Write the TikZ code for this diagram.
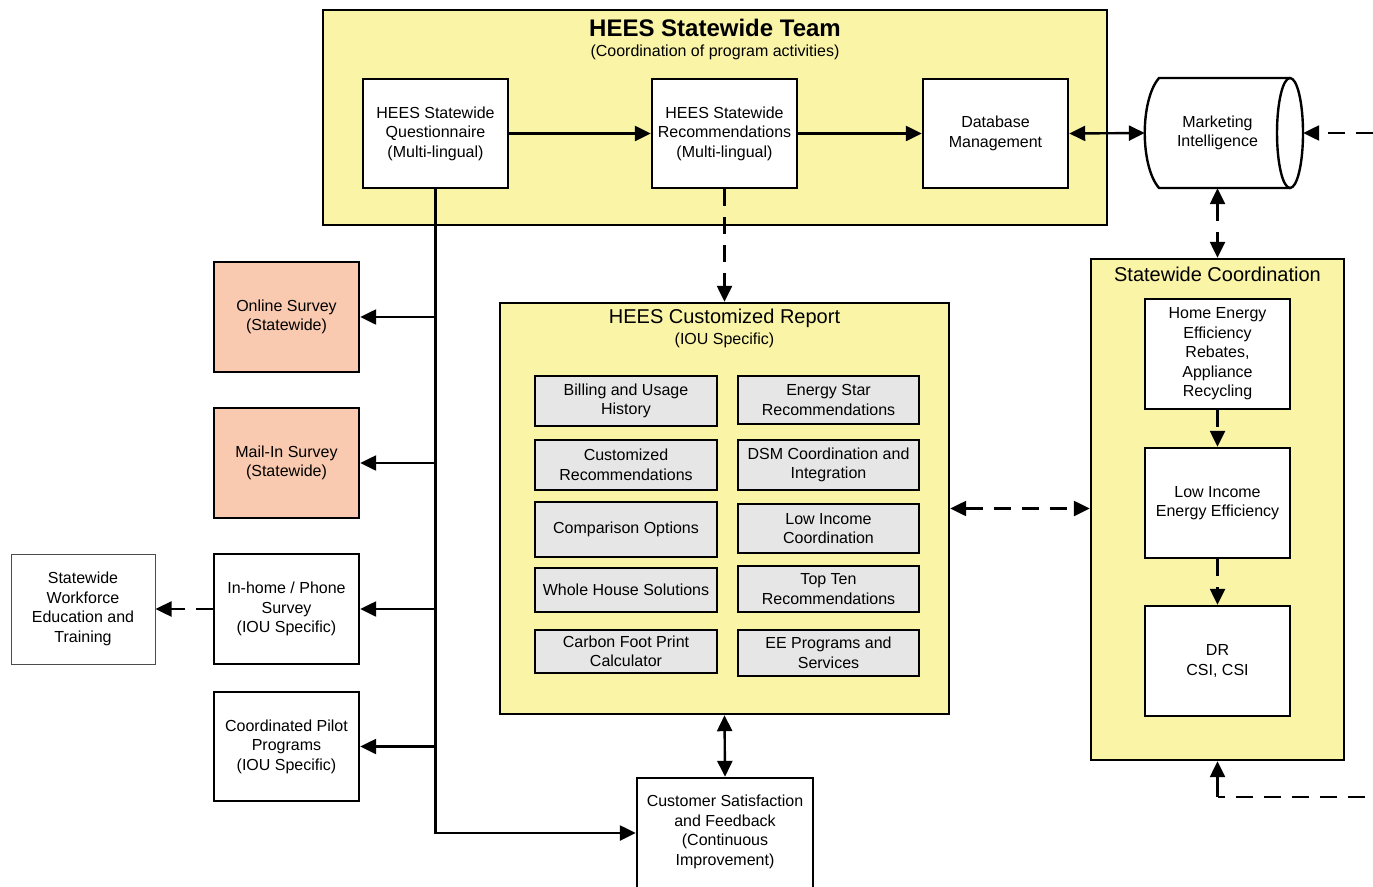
\documentclass[tikz,border=0pt]{standalone}
\usepackage{fontspec}
\setmainfont{Liberation Sans}
\usetikzlibrary{arrows.meta}
\definecolor{hyellow}{HTML}{FAF4A6}
\definecolor{hsalmon}{HTML}{F9C9B0}
\definecolor{hgray}{HTML}{E6E6E6}
\tikzset{
  base/.style={draw, line width=2.4pt, font=\fontsize{16}{19.5}\selectfont, align=center, inner sep=1pt},
  wbox/.style={base, fill=white},
  ybox/.style={base, fill=hyellow},
  sbox/.style={base, fill=hsalmon},
  gbox/.style={base, fill=hgray, line width=2.5pt},
  txt/.style={font=\fontsize{16}{19.5}\selectfont, align=center, inner sep=0pt},
  ttl/.style={txt, font=\fontsize{20}{24}\selectfont},
  tip/.tip={Triangle[length=16pt,width=15pt]},
  arr/.style={line width=2.4pt, -tip},
  darr/.style={line width=2.4pt, tip-tip},
  dsh/.style={dash pattern=on 17pt off 11pt},
  stdbox/.style={minimum width=145pt, minimum height=110pt},
}
\begin{document}
\begin{tikzpicture}[x=1pt,y=-1pt]
\useasboundingbox (0,0) rectangle (1373,886);
\clip (0,0) rectangle (1373,886);

% HEES Statewide Team
\node[ybox, minimum width=784pt, minimum height=215pt] (team) at (715,117.5) {};
\node[txt, font=\bfseries\fontsize{24}{28}\selectfont] (teamt) at (715,28) {HEES Statewide Team};
\node[txt] (teams) at (715,52) {(Coordination of program activities)};
\node[wbox, stdbox, minimum height=109pt] (q) at (435.5,133.5) {HEES Statewide\\Questionnaire\\(Multi-lingual)};
\node[wbox, stdbox, minimum height=109pt] (r) at (724.5,133.5) {HEES Statewide\\Recommendations\\(Multi-lingual)};
\node[wbox, stdbox, minimum height=109pt] (db) at (995.5,133.5) {Database\\Management};

% Marketing Intelligence cylinder
\fill[white] (1290,78) -- (1159,78) .. controls (1140,100) and (1140,166) .. (1159,188) -- (1290,188) -- cycle;
\filldraw[fill=white, line width=2.4pt] (1290,133) ellipse [x radius=13, y radius=55];
\draw[line width=2.4pt] (1290,78) -- (1159,78) .. controls (1140,100) and (1140,166) .. (1159,188) -- (1290,188);
\node[inner sep=0pt, minimum width=158pt, minimum height=110pt] (mi) at (1224,133) {};
\node[txt] (mit) at (1217.5,133) {Marketing\\Intelligence};

% HEES Customized Report
\node[ybox, minimum width=449pt, minimum height=411pt] (rep) at (724.5,508.5) {};
\node[ttl] (rept) at (724.5,318) {HEES Customized Report};
\node[txt] (reps) at (724.5,340) {(IOU Specific)};
\node[gbox, minimum width=182pt, minimum height=50pt] (g1) at (626,401) {Billing and Usage\\History};
\node[gbox, minimum width=181pt, minimum height=48pt] (g2) at (828.5,400) {Energy Star\\Recommendations};
\node[gbox, minimum width=182pt, minimum height=50pt] (g3) at (626,465) {Customized\\Recommendations};
\node[gbox, minimum width=181pt, minimum height=50pt] (g4) at (828.5,465) {DSM Coordination and\\Integration};
\node[gbox, minimum width=182pt, minimum height=55pt] (g5) at (626,529.5) {Comparison Options};
\node[gbox, minimum width=181pt, minimum height=49pt] (g6) at (828.5,528.5) {Low Income\\Coordination};
\node[gbox, minimum width=182pt, minimum height=44pt] (g7) at (626,590) {Whole House Solutions};
\node[gbox, minimum width=181pt, minimum height=46pt] (g8) at (828.5,589) {Top Ten\\Recommendations};
\node[gbox, minimum width=182pt, minimum height=43pt] (g9) at (626,651.5) {Carbon Foot Print\\Calculator};
\node[gbox, minimum width=181pt, minimum height=46pt] (g10) at (828.5,653) {EE Programs and\\Services};

% Statewide Coordination
\node[ybox, minimum width=253pt, minimum height=501pt] (sc) at (1217.5,509.5) {};
\node[ttl] (sct) at (1217.5,274) {Statewide Coordination};
\node[wbox, stdbox] (he) at (1217.5,354) {Home Energy\\Efficiency\\Rebates,\\Appliance\\Recycling};
\node[wbox, stdbox] (li) at (1217.5,503) {Low Income\\Energy Efficiency};
\node[wbox, stdbox] (dr) at (1217.5,661) {DR\\CSI, CSI};

% Left column
\node[sbox, stdbox] (os) at (286.5,317) {Online Survey\\(Statewide)};
\node[sbox, stdbox] (ms) at (286.5,463) {Mail-In Survey\\(Statewide)};
\node[wbox, stdbox] (ih) at (286.5,609) {In-home / Phone\\Survey\\(IOU Specific)};
\node[wbox, stdbox, minimum height=109pt] (cp) at (286.5,746.5) {Coordinated Pilot\\Programs\\(IOU Specific)};
\node[wbox, stdbox, minimum width=144pt, line width=1pt, draw=black!70] (wf) at (83,609) {Statewide\\Workforce\\Education and\\Training};

% Customer Satisfaction
\node[wbox, minimum width=176pt, minimum height=130pt] (cs) at (725,843) {};
\node[txt] (cst) at (725,832) {Customer Satisfaction\\and Feedback\\(Continuous\\Improvement)};

% Connectors
\draw[arr] (q.east) -- (r.west);
\draw[arr] (r.east) -- (db.west);
\draw[darr] (db.east) -- (mi.west);
\coordinate (mie) at (1373,133);
\draw[arr, dsh] (mie) -- (mi.east);
\draw[darr, dsh] (sc.north |- mi.south) -- (sc.north);
\draw[arr, dsh] (r.south) -- (rep.north);
\draw[darr, dsh] (rep.east) -- (rep.east -| sc.west);
\draw[arr, dsh] (he.south) -- (li.north);
\draw[arr, dsh] (li.south) -- (dr.north);
\coordinate (br) at (1365,797);
\coordinate (bc) at (1217.5,797);
\draw[line width=2.4pt, dsh] (br) -- (bc);
\draw[arr] (bc) -- (sc.south);

\coordinate (tb) at (435.5,833);
\draw[arr] (q.south) -- (tb) -- (tb -| cs.west);
\draw[arr] (q.south |- os.east) -- (os.east);
\draw[arr] (q.south |- ms.east) -- (ms.east);
\draw[arr] (q.south |- ih.east) -- (ih.east);
\draw[arr] (q.south |- cp.east) -- (cp.east);
\draw[arr, dsh] (ih.west) -- (wf.east);
\draw[darr] (rep.south) -- (cs.north);
\end{tikzpicture}
\end{document}
